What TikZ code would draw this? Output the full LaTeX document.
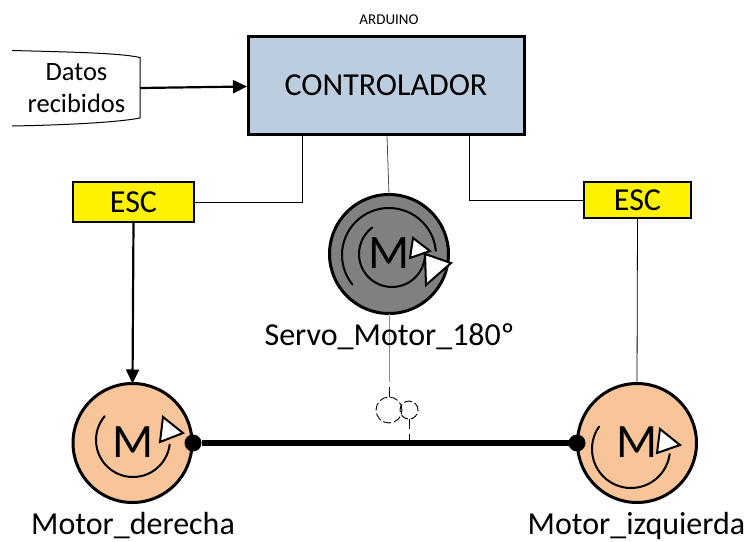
\documentclass[tikz,border=0pt]{standalone}
\usepackage{fontspec}
\setmainfont{Carlito}
\usetikzlibrary{arrows.meta}
\definecolor{ctrlblue}{HTML}{BDCDE0}
\definecolor{motorpeach}{HTML}{F8C49A}
\definecolor{servogray}{HTML}{808080}
\tikzset{
  x=1pt,y=-1pt,
  every node/.style={inner sep=0pt,outer sep=0pt},
  motorbody/.style={circle,draw=black,line width=3pt,minimum size=119pt},
  escbox/.style={rectangle,draw=black,line width=2.4pt,fill=yellow,font=\fontsize{32}{36}\selectfont},
  caption/.style={font=\fontsize{32}{36}\selectfont,anchor=base},
  rotor/.style={line width=2pt,line cap=round},
  tip/.style={draw=black,fill=white,line width=2pt,line join=miter},
  letterM/.style={font=\fontsize{48}{52}\selectfont},
  thin link/.style={line width=0.8pt},
  strong link/.style={line width=2.2pt,-{Triangle[length=14pt,width=13pt]}},
  gear/.style={circle,draw=black,line width=0.9pt,dash pattern=on 8pt off 3pt},
  shaftdot/.style={circle,fill=black,minimum size=17pt}
}
\begin{document}
\begin{tikzpicture}
\useasboundingbox (0,0) rectangle (744,541);
% controller
\node[draw=black,line width=3pt,fill=ctrlblue,minimum width=276pt,minimum height=98pt,font=\fontsize{32}{36}\selectfont] (ctrl) at (386,85) {CONTROLADOR};
\node[font=\fontsize{15}{18}\selectfont] (ard) at (389,20) {ARDUINO};
% tape
\draw[line width=1pt] (12,50.5) .. controls (70,52) and (120,53) .. (140,57.5) -- (140,118) .. controls (120,122) and (70,125) .. (12,126);
\coordinate (dataout) at (140,88);
\coordinate (datain) at (247,86.5);
\node[font=\fontsize{26.5}{32}\selectfont,align=center] (datos) at (76.5,88) {Datos\\recibidos};
\draw[strong link] (dataout) -- (datain);
% esc
\node[escbox,minimum width=121pt,minimum height=40pt] (escL) at (133.5,202) {ESC};
\node[escbox,minimum width=107pt,minimum height=36pt] (escR) at (637.5,200) {ESC};
% motors
\node[motorbody,fill=motorpeach] (mL) at (132.5,443) {};
\node[motorbody,fill=motorpeach] (mR) at (637,443) {};
\node[motorbody,fill=servogray] (srv) at (389,254) {};
% control lines
\coordinate (c1) at (302,136);
\coordinate (c2) at (469,136);
\coordinate (c3) at (387,136);
\draw[thin link] (c1) |- (escL.east);
\draw[thin link] (c2) |- (escR.west);
\draw[thin link,draw=black!70] (c3) -- (srv.north);
\draw[strong link] (escL.south) -- (mL.north);
\draw[thin link] (escR.south) -- (mR.north);
% shaft
\node[shaftdot] (dL) at (193,443) {};
\node[shaftdot] (dR) at (577,443) {};
\draw[line width=6pt] (dL) -- (dR);
% gears
\node[gear,minimum size=26pt] (g1) at (389,410) {};
\node[gear,minimum size=18pt] (g2) at (409,410) {};
\coordinate (shafttap) at (409,441);
\coordinate (srvlow) at (389,382);
\coordinate (g1high) at (389,387);
\draw[line width=0.8pt,draw=black!45] (srv.south) -- (srvlow);
\draw[line width=0.8pt] (g1high) -- (g1.north);
\draw[line width=0.8pt,dash pattern=on 10pt off 5pt] (g2.south) -- (shafttap);
% left motor
\draw[rotor] ([shift={(133,440)}]-140:37) arc[start angle=-140,end angle=-353,radius=37];
\draw[tip] (163,417) -- (183,433) -- (160,442) -- cycle;
\node[letterM] (mlL) at (133,442.5) {M};
% right motor
\draw[rotor] ([shift={(631,449)}]-145:39) arc[start angle=-145,end angle=-352.5,radius=39];
\node[letterM] (mlR) at (637,442.5) {M};
\draw[tip] (660,429) -- (680,445) -- (657,453) -- cycle;
% servo
\draw[rotor] ([shift={(389,255)}]-219:47) arc[start angle=-219,end angle=-5,radius=47];
\draw[rotor] ([shift={(392,254)}]-127:33) arc[start angle=-127,end angle=-360,radius=33];
\node[letterM] (mlS) at (389,253) {M};
\draw[tip] (413,238) -- (430,251) -- (410,258) -- cycle;
\draw[tip] (425,254) -- (451,263) -- (426,285) -- cycle;
% captions
\node[caption] (capS) at (389.5,345) {Servo\_Motor\_180º};
\node[caption] (capL) at (133,534) {Motor\_derecha};
\node[caption] (capR) at (636.5,534) {Motor\_izquierda};
\end{tikzpicture}
\end{document}
